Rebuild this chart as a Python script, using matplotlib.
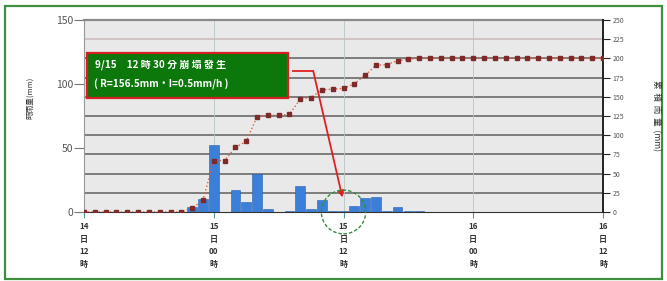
import matplotlib
matplotlib.use("Agg")
import matplotlib.pyplot as plt
import numpy as np
from matplotlib.patches import Rectangle, Ellipse

plt.rcParams["font.family"] = ["Noto Sans CJK TC", "DejaVu Sans"]
plt.rcParams["axes.unicode_minus"] = False

# hours counted from 9/14 12:00
hours = np.arange(0, 49)

# hourly rainfall (mm), left axis
rain_hours = [10, 11, 12, 14, 15, 16, 17, 19, 20, 21, 22, 23, 24, 25, 26, 27, 28, 29, 30, 31]
rain_mm = [4, 10, 52, 17, 8, 30, 2, 1, 20, 2, 9, 1, 1, 5, 11, 12, 1, 4, 1, 1]

# cumulative rainfall (mm), right axis
cum_mm = [0, 0, 0, 0, 0, 0, 0, 0, 0, 0,
          5, 15, 67, 67, 84, 92, 124, 126, 126, 127,
          147, 149, 159, 160, 161, 167, 178, 191, 192, 197,
          199, 200, 200, 200, 200, 200, 200, 200, 200, 200,
          200, 200, 200, 200, 200, 200, 200, 200, 200]

xtick_pos = [0, 12, 24, 36, 48]
xtick_labels = ["14\n日\n12\n時", "15\n日\n00\n時", "15\n日\n12\n時",
                "16\n日\n00\n時", "16\n日\n12\n時"]
left_ticks = [0, 50, 100, 150]
right_ticks = list(range(0, 251, 25))

event_hour = 24
note_line1 = "9/15　12 時 30 分 崩 塌 發 生"
note_line2 = "( R=156.5mm‧I=0.5mm/h )"

fig = plt.figure(figsize=(6.67, 2.81), dpi=100)
fig.patch.set_facecolor("white")
fig.add_artist(Rectangle((5 / 667, 2 / 281), 657 / 667, 273 / 281,
                         transform=fig.transFigure, fill=False,
                         ec="#3f8f3f", lw=1.6))

ax = fig.add_axes([84 / 667, 1 - 212 / 281, 519 / 667, 192 / 281])
ax.set_facecolor("#e9e9e9")
ax.set_xlim(0, 48)
ax.set_ylim(0, 150)

# horizontal grid at right-axis steps (25 mm -> 15 on left scale)
for v in right_ticks[1:-1]:
    ax.axhline(v * 150 / 250, color="#5f5f5f" if v < 225 else "#c9b9b9",
               lw=1.1, zorder=1)
for xt in xtick_pos[1:-1]:
    ax.axvline(xt, color="#b8c4c4", lw=0.6, zorder=1)

ax.bar(rain_hours, rain_mm, width=0.9, color="#3b7fd9", ec="#2a5fb0",
       lw=0.4, zorder=2)

ax.set_yticks(left_ticks)
ax.tick_params(axis="y", length=7, width=0.8, color="#777", labelsize=7.5,
               labelcolor="#555", pad=1)
ax.set_xticks(xtick_pos)
ax.set_xticklabels(xtick_labels, fontsize=5.8, linespacing=1.55,
                   color="#333", fontweight="bold")
ax.tick_params(axis="x", length=4, width=0.8, color="#5a9a9a", pad=3)
ax.spines["top"].set_color("#8a8a8a")
ax.spines["top"].set_linewidth(1.6)
ax.spines["left"].set_color("#9a9a9a")
ax.spines["bottom"].set_color("#333")
ax.spines["right"].set_visible(False)

ax2 = ax.twinx()
ax2.set_ylim(0, 250)
ax2.set_yticks(right_ticks)
ax2.tick_params(axis="y", length=5, width=0.8, color="#222", labelsize=5,
                labelcolor="#555", pad=2)
ax2.spines["right"].set_color("#222")
ax2.spines["right"].set_linewidth(1.4)
for s in ["top", "left", "bottom"]:
    ax2.spines[s].set_visible(False)

ax2.plot(hours, cum_mm, linestyle=":", color="#e0603a", lw=1.0,
         marker="s", ms=2.4, mfc="#7e2a2a", mec="#7e2a2a", zorder=3)

# annotation box
box_x0, box_x1 = 0.3, 18.9
box_y0, box_y1 = 148.5, 207
ax2.add_patch(Rectangle((box_x0, box_y0), box_x1 - box_x0, box_y1 - box_y0,
                        fc="#0c780c", ec="#d42020", lw=1.6, zorder=5))
ax2.text(1.0, 192, note_line1, color="white", fontsize=7.2, fontweight="bold",
         va="center", ha="left", zorder=6)
ax2.text(0.9, 166, note_line2, color="white", fontsize=7.2, fontweight="bold",
         va="center", ha="left", zorder=6)

corner = (21.2, 183.6)
ax2.plot([19.3, corner[0]], [corner[1], corner[1]], color="#e02020", lw=1.3,
         zorder=5, clip_on=False)
ax2.annotate("", xy=(event_hour - 0.1, 19), xytext=corner,
             arrowprops=dict(arrowstyle="-|>", color="#e02020", lw=1.3,
                             mutation_scale=9, shrinkA=0, shrinkB=0),
             zorder=5)
ax2.add_patch(Ellipse((event_hour, 0), 4.1, 57, fill=False, ec="#2f8f3a",
                      lw=1.0, ls=(0, (2.5, 1.5)), zorder=6, clip_on=False))

fig.text(30 / 667, 1 - 98 / 281, "時雨量(mm)", rotation=90, fontsize=5.5,
         color="#333", ha="center", va="center")
fig.text(656 / 667, 1 - 115 / 281, "累  積  雨  量  (mm)", rotation=270,
         fontsize=6.2, color="#333", ha="center", va="center")

fig.savefig("out.png", dpi=100)
